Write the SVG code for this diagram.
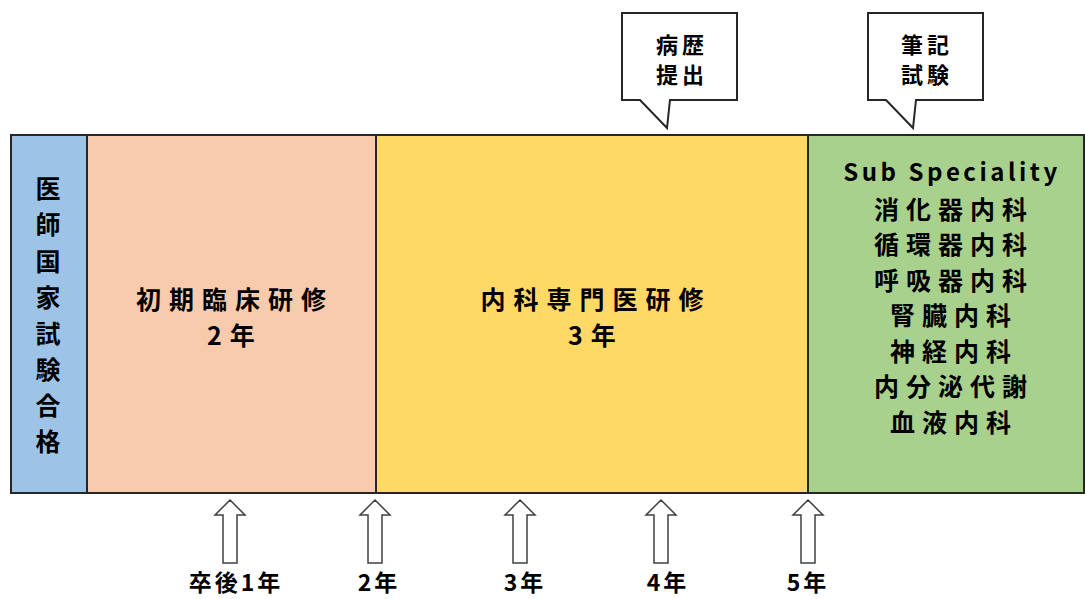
<svg xmlns="http://www.w3.org/2000/svg" width="1085" height="599" viewBox="0 0 1085 599">
<style>
text{font-family:"Noto Sans CJK JP","Noto Sans CJK SC",sans-serif;font-weight:bold;fill:#000;text-anchor:middle}
.t{font-size:25px}
.m{font-size:25px;letter-spacing:8px}
.g{font-size:25px;letter-spacing:7px}
.k{font-size:22px;letter-spacing:4px}
.s{font-size:23px;letter-spacing:3px}
.b{stroke:#262626;stroke-width:2}
.c{fill:#fff;stroke:#262626;stroke-width:2}
.arr{fill:#fff;stroke:#404040;stroke-width:1.5}
</style>
<defs>
<path id="up" d="M0,0 L15,15 L7,15 L7,63 L-7,63 L-7,15 L-15,15 Z"/>
</defs>
<g id="blue"><rect x="11" y="135" width="76" height="358" fill="#9DC3E6" class="b"/>
<text class="t" x="48" y="198">医</text><text class="t" x="48" y="234">師</text><text class="t" x="48" y="271">国</text><text class="t" x="48" y="307">家</text><text class="t" x="48" y="343">試</text><text class="t" x="48" y="379">験</text><text class="t" x="48" y="415">合</text><text class="t" x="48" y="451">格</text></g>
<g id="pink"><rect x="87" y="135" width="289" height="358" fill="#F8CBAD" class="b"/>
<text class="m" x="235" y="309">初期臨床研修</text><text class="m" x="235" y="345">2年</text></g>
<g id="yellow"><rect x="376" y="135" width="432" height="358" fill="#FFD966" class="b"/>
<text class="m" x="596" y="309">内科専門医研修</text><text class="m" x="596" y="345">3年</text></g>
<g id="green"><rect x="808" y="135" width="276" height="358" fill="#A9D18E" class="b"/>
<text x="952" y="181" style="font-size:24px;letter-spacing:3.5px">Sub Speciality</text>
<text class="g" x="954" y="219">消化器内科</text><text class="g" x="954" y="254">循環器内科</text><text class="g" x="954" y="290">呼吸器内科</text><text class="g" x="954" y="325">腎臓内科</text><text class="g" x="954" y="361">神経内科</text><text class="g" x="954" y="396">内分泌代謝</text><text class="g" x="954" y="432">血液内科</text></g>
<g id="callout1"><path class="c" d="M622,13 H737 V100 H670 L667,128 L640,100 H622 Z"/>
<text class="k" x="682" y="53">病歴</text><text class="k" x="682" y="83">提出</text></g>
<g id="callout2"><path class="c" d="M868,13 H983 V100 H916 L913,128 L886,100 H868 Z"/>
<text class="k" x="927" y="53">筆記</text><text class="k" x="927" y="83">試験</text></g>
<g id="connectors">
<use href="#up" class="arr" x="230" y="500"/>
<use href="#up" class="arr" x="375" y="500"/>
<use href="#up" class="arr" x="520" y="500"/>
<use href="#up" class="arr" x="661" y="500"/>
<use href="#up" class="arr" x="808" y="500"/>
</g>
<g id="labels">
<text class="s" x="236" y="591">卒後1年</text>
<text class="s" x="379" y="591">2年</text>
<text class="s" x="525" y="591">3年</text>
<text class="s" x="668" y="591">4年</text>
<text class="s" x="808" y="591">5年</text>
</g>
</svg>
